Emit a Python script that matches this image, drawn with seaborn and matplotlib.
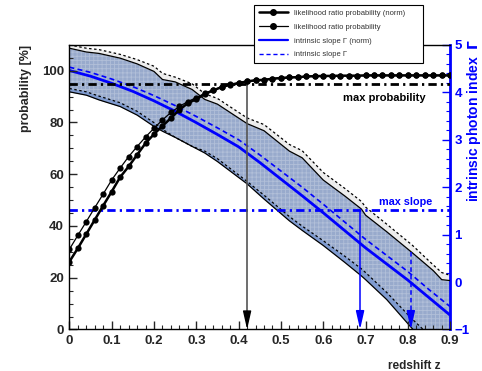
import numpy as np
import matplotlib
matplotlib.use("Agg")
import matplotlib.pyplot as plt
from matplotlib.ticker import MultipleLocator, FormatStrFormatter
from matplotlib.lines import Line2D
import seaborn as sns

# likelihood ratio probability [%], sampled every 0.02 in z
z_prob = np.round(np.arange(0, 0.901, 0.02), 2)
prob_norm = [26.2, 31.4, 36.9, 42.4, 47.9, 53.3, 58.9, 63.0, 67.5, 72.0, 75.5, 78.7, 81.7, 84.9, 87.5,
             89.0, 91.0, 92.4, 93.7, 94.6, 95.2, 95.9, 96.3, 96.5, 96.9, 97.2, 97.4, 97.5, 97.8, 97.9,
             98.0, 98.0, 98.1, 98.1, 98.1, 98.2, 98.2, 98.2, 98.2, 98.2, 98.2, 98.2, 98.2, 98.2, 98.2, 98.2]
prob_raw = [31.0, 36.4, 41.7, 47.1, 52.4, 57.8, 62.4, 66.8, 70.7, 74.4, 77.8, 81.0, 83.9, 86.2, 88.1,
            89.6, 91.3, 92.6, 93.8, 94.7, 95.3, 96.0, 96.4, 96.6, 97.0, 97.3, 97.5, 97.6, 97.8, 97.9,
            98.0, 98.0, 98.1, 98.1, 98.1, 98.2, 98.2, 98.2, 98.2, 98.2, 98.2, 98.2, 98.2, 98.2, 98.2, 98.2]

# intrinsic photon index (central values)
z_gamma = [0.0, 0.05, 0.1, 0.15, 0.2, 0.25, 0.3, 0.35, 0.4, 0.45, 0.5, 0.55, 0.6, 0.65, 0.7, 0.75, 0.8, 0.85, 0.9]
gamma_norm = [4.46, 4.34, 4.19, 4.02, 3.82, 3.60, 3.36, 3.11, 2.85, 2.52, 2.17, 1.82, 1.46, 1.09, 0.72, 0.38, 0.04, -0.33, -0.70]
gamma_raw = [4.53, 4.42, 4.28, 4.12, 3.93, 3.72, 3.49, 3.25, 3.00, 2.68, 2.34, 2.00, 1.64, 1.27, 0.90, 0.56, 0.22, -0.16, -0.52]

# error bands
z_band = [0.0, 0.04, 0.07, 0.12, 0.16, 0.2, 0.22, 0.25, 0.29, 0.32, 0.35, 0.42, 0.46, 0.52, 0.55,
          0.6, 0.65, 0.69, 0.7, 0.75, 0.81, 0.86, 0.88, 0.9]
norm_hi = [4.93, 4.85, 4.82, 4.72, 4.60, 4.44, 4.27, 4.22, 4.06, 3.85, 3.75, 3.34, 3.19, 2.76, 2.62,
           2.15, 1.82, 1.54, 1.41, 1.06, 0.62, 0.24, 0.05, 0.03]
norm_lo = [4.01, 3.94, 3.84, 3.70, 3.52, 3.28, 3.18, 3.05, 2.86, 2.72, 2.54, 2.07, 1.75, 1.29, 1.09,
           0.77, 0.42, 0.13, 0.05, -0.37, -0.98, -1.45, -1.60, -1.75]
raw_hi = [5.00, 4.93, 4.90, 4.80, 4.69, 4.55, 4.40, 4.32, 4.18, 3.97, 3.87, 3.46, 3.32, 2.90, 2.77,
          2.31, 1.98, 1.70, 1.58, 1.22, 0.78, 0.36, 0.20, 0.14]
raw_lo = [4.08, 4.01, 3.92, 3.78, 3.60, 3.36, 3.22, 3.05, 2.86, 2.76, 2.60, 2.12, 1.83, 1.38, 1.18,
          0.87, 0.55, 0.28, 0.20, -0.22, -0.78, -1.20, -1.35, -1.50]

max_prob = 95.0
max_slope = 1.52
z_arrow_prob = 0.42
z_arrow_norm = 0.687
z_arrow_raw = 0.807
gamma_arrow_raw = 0.64

sns.set_style("ticks")
plt.rcParams['font.family'] = ['Liberation Sans', 'DejaVu Sans']
plt.rcParams['hatch.linewidth'] = 0.6

BLUE = '#0000ff'
fig = plt.figure(figsize=(4.82, 3.71), dpi=100)
ax = fig.add_axes([0.144, 0.112, 0.790, 0.767])
ax2 = ax.twinx()
ax.set_zorder(2)
ax.patch.set_visible(False)

# bands on the photon index axis
ax2.fill_between(z_band, norm_lo, norm_hi, color='#7f9bd0', lw=0, zorder=1)
ax2.fill_between(z_band, raw_lo, raw_hi, facecolor=(0.78, 0.78, 0.78, 0.35),
                 edgecolor=(1, 1, 1, 0.25), hatch='++++', lw=0, zorder=2)
for yy in (norm_hi, norm_lo):
    ax2.plot(z_band, yy, color='black', lw=0.9, zorder=3)
for yy in (raw_hi, raw_lo):
    ax2.plot(z_band, yy, color='black', lw=0.9, ls=(0, (2, 2)), zorder=3)

sns.lineplot(x=z_gamma, y=gamma_norm, ax=ax2, color=BLUE, lw=2, zorder=4)
sns.lineplot(x=z_gamma, y=gamma_raw, ax=ax2, color=BLUE, lw=1.2, ls=(0, (3, 2)), zorder=4)
ax2.axhline(max_slope, color=BLUE, lw=2, ls=(0, (3, 1.5, 0.8, 1.5)), zorder=5)
ax2.text(0.857, max_slope + 0.17, 'max slope', color=BLUE, fontsize=7.8, fontweight='bold',
         ha='right', va='center', zorder=6)

# arrows from photon index
ax2.plot([z_arrow_norm, z_arrow_norm], [max_slope, -0.7], color=BLUE, lw=1.1, zorder=6)
ax2.plot([z_arrow_raw, z_arrow_raw], [gamma_arrow_raw, -0.7], color=BLUE, lw=1.1, ls=(0, (3, 2)), zorder=6)
for zz in (z_arrow_norm, z_arrow_raw):
    ax2.annotate('', xy=(zz, -1), xytext=(zz, -0.66),
                 arrowprops=dict(arrowstyle='-|>,head_length=1.1,head_width=0.25', mutation_scale=10,
                                 color=BLUE, lw=1.1, shrinkA=0, shrinkB=0), zorder=6)

# probability curves
sns.lineplot(x=z_prob, y=prob_raw, ax=ax, color='black', lw=0.9, marker='o', markersize=4.5,
             markeredgewidth=0, zorder=5)
sns.lineplot(x=z_prob, y=prob_norm, ax=ax, color='black', lw=1.8, marker='o', markersize=4.5,
             markeredgewidth=0, zorder=5)
ax.axhline(max_prob, color='black', lw=2, ls=(0, (3, 1.5, 0.8, 1.5)), zorder=4)
ax.text(0.842, 89.4, 'max probability', color='black', fontsize=8, fontweight='bold',
        ha='right', va='center', zorder=6)
ax.plot([z_arrow_prob, z_arrow_prob], [96, 6], color='#555555', lw=1.2, zorder=4)
ax.annotate('', xy=(z_arrow_prob, 0), xytext=(z_arrow_prob, 6.5),
            arrowprops=dict(arrowstyle='-|>,head_length=1.1,head_width=0.25', mutation_scale=10,
                            color='black', lw=1.0, shrinkA=0, shrinkB=0), zorder=6)

# axes formatting
ax.set_xlim(0, 0.9)
ax.set_ylim(0, 110)
ax2.set_ylim(-1, 5)
ax.xaxis.set_major_locator(MultipleLocator(0.1))
ax.xaxis.set_minor_locator(MultipleLocator(0.02))
ax.xaxis.set_major_formatter(FormatStrFormatter('%g'))
ax.yaxis.set_major_locator(MultipleLocator(20))
ax.yaxis.set_minor_locator(MultipleLocator(5))
ax2.yaxis.set_major_locator(MultipleLocator(1))
ax2.yaxis.set_minor_locator(MultipleLocator(0.2))

ax.tick_params(axis='both', which='major', direction='in', length=6, width=1, labelsize=9.5, pad=4)
ax.tick_params(axis='both', which='minor', direction='in', length=3, width=0.8)
ax.tick_params(axis='x', which='both', top=False)
ax.tick_params(axis='y', which='both', right=False)
ax2.tick_params(axis='y', which='major', direction='in', length=6, width=1, colors=BLUE, labelsize=9.5, pad=3)
ax2.tick_params(axis='y', which='minor', direction='in', length=3, width=0.8, colors=BLUE)
for lab in ax.get_xticklabels() + ax.get_yticklabels() + ax2.get_yticklabels():
    lab.set_fontweight('bold')

for s in ['left', 'bottom', 'top']:
    ax.spines[s].set_linewidth(1.0)
    ax.spines[s].set_color('black')
    ax2.spines[s].set_visible(False)
ax.spines['right'].set_visible(False)
ax2.spines['right'].set_color(BLUE)
ax2.spines['right'].set_linewidth(2)

ax.set_xlabel('redshift z', fontsize=8.5, fontweight='bold', loc='right')
ax.xaxis.set_label_coords(0.974, -0.107)
ax.set_ylabel('probability [%]', fontsize=9, fontweight='bold', loc='top')
ax.yaxis.set_label_coords(-0.098, 1.0)
ax2.set_ylabel('intrinsic photon index  $\\mathbf{\\Gamma}$', fontsize=10, fontweight='bold', color=BLUE, loc='top')
ax2.yaxis.set_label_coords(1.04, 1.02)

handles = [
    Line2D([], [], color='black', lw=1.8, marker='o', markersize=4),
    Line2D([], [], color='black', lw=0.9, marker='o', markersize=4),
    Line2D([], [], color=BLUE, lw=1.6),
    Line2D([], [], color=BLUE, lw=1.0, ls=(0, (3, 2))),
]
labels = ['likelihood ratio probability (norm)', 'likelihood ratio probability',
          'intrinsic slope \u0393 (norm)', 'intrinsic slope \u0393']
for a in (ax, ax2):
    if a.get_legend() is not None:
        a.get_legend().remove()
leg = fig.legend(handles, labels, loc='upper left',
                 bbox_to_anchor=(254 / 482, 1 - 61 / 371, 169 / 482, 56 / 371), mode='expand',
                 fontsize=5.5, frameon=True, fancybox=False, edgecolor='black', framealpha=1,
                 handlelength=3.9, labelspacing=0.85, borderpad=0.6, borderaxespad=0, handletextpad=0.8)
leg.get_frame().set_linewidth(0.8)
for t in leg.get_texts():
    t.set_color('#333333')

fig.savefig('out.png', dpi=100)
